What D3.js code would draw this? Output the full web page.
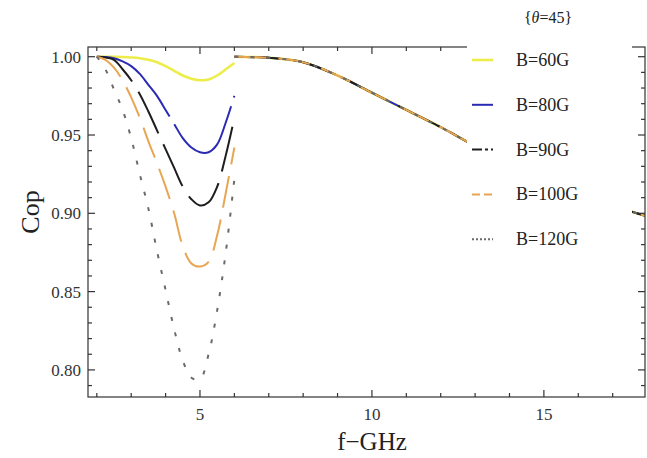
<!DOCTYPE html>
<html>
<head>
<meta charset="utf-8">
<script src="https://cdn.jsdelivr.net/npm/d3@7"></script>
<style>
  body { margin: 0; background: #fff; }
  svg { display: block; }
  text { font-family: "Liberation Serif", "Times New Roman", "DejaVu Serif", serif; }
  .tick-label { font-size: 17px; fill: #333; }
  .axis-title { font-size: 26px; fill: #222; }
  .legend-text { font-size: 18px; fill: #222; }
</style>
</head>
<body>
<div id="chart"></div>
<script>
// dip region, f from 2 to 6 GHz
var freqLow = [2, 2.25, 2.5, 2.75, 3, 3.25, 3.5, 3.75, 4, 4.25, 4.5, 4.75, 5, 5.25, 5.5, 5.75, 6];
var cop60  = [1.000, 1.000, 1.000, 0.9998, 0.9995, 0.999, 0.998, 0.9965, 0.994, 0.991, 0.988, 0.986, 0.985, 0.9855, 0.988, 0.992, 0.996];
var cop80  = [1.000, 0.9998, 0.999, 0.997, 0.994, 0.989, 0.982, 0.975, 0.966, 0.957, 0.948, 0.942, 0.939, 0.939, 0.944, 0.958, 0.975];
var cop90  = [1.000, 0.9995, 0.998, 0.992, 0.985, 0.976, 0.965, 0.953, 0.941, 0.929, 0.917, 0.909, 0.905, 0.907, 0.917, 0.937, 0.961];
var cop100 = [1.000, 0.998, 0.993, 0.985, 0.974, 0.961, 0.946, 0.932, 0.917, 0.900, 0.879, 0.868, 0.866, 0.869, 0.886, 0.913, 0.942];
var cop120 = [1.000, 0.992, 0.979, 0.966, 0.948, 0.925, 0.903, 0.876, 0.851, 0.826, 0.806, 0.795, 0.794, 0.810, 0.838, 0.875, 0.922];

// above 6 GHz all five curves coincide
var freqHigh = [6, 7, 8, 9, 10, 11, 12, 13, 14, 15, 16, 17, 18];
var copHigh  = [1.000, 0.9993, 0.9965, 0.988, 0.977, 0.966, 0.955, 0.943, 0.932, 0.922, 0.913, 0.905, 0.898];

var seriesNames  = ["B=60G", "B=80G", "B=90G", "B=100G", "B=120G"];
var seriesLow    = [cop60, cop80, cop90, cop100, cop120];
var seriesColors = ["#eded4a", "#2a2ab4", "#1e1e1e", "#e8a552", "#6a6a6a"];
var seriesDash   = [null, "100,9", "46,12", "32,12", "4,12"];
var seriesWidth  = [2.6, 2, 2, 2, 2];

var xMajor = [5, 10, 15];
var yMajor = [0.80, 0.85, 0.90, 0.95, 1.00];

var width  = 647;
var height = 458;
var frame  = {left: 88, right: 645, top: 47, bottom: 397};

var svg = d3.select("#chart").append("svg")
    .attr("width", width)
    .attr("height", height);

var xScale = d3.scaleLinear().domain([1.744, 17.94]).range([frame.left, frame.right]);
var yScale = d3.scaleLinear().domain([0.7827, 1.0062]).range([frame.bottom, frame.top]);

svg.append("clipPath").attr("id", "clip")
  .append("rect")
    .attr("x", frame.left).attr("y", frame.top)
    .attr("width", frame.right - frame.left)
    .attr("height", frame.bottom - frame.top);

var line = d3.line()
    .x(function(d) { return xScale(d[0]); })
    .y(function(d) { return yScale(d[1]); })
    .curve(d3.curveCatmullRom);

var plot = svg.append("g").attr("clip-path", "url(#clip)");

seriesLow.forEach(function(vals, i) {
  var low  = freqLow.map(function(f, j) { return [f, vals[j]]; });
  var high = freqHigh.map(function(f, j) { return [f, copHigh[j]]; });
  [low, high].forEach(function(pts) {
    plot.append("path")
        .datum(pts)
        .attr("fill", "none")
        .attr("stroke", seriesColors[i])
        .attr("stroke-width", seriesWidth[i])
        .attr("stroke-dasharray", seriesDash[i])
        .attr("d", line);
  });
});

// frame with inward ticks on all four sides
var frameG = svg.append("g").attr("stroke", "#333").attr("stroke-width", 1.2);
frameG.append("rect")
    .attr("x", frame.left).attr("y", frame.top)
    .attr("width", frame.right - frame.left)
    .attr("height", frame.bottom - frame.top)
    .attr("fill", "none");

var xTicks = d3.range(2, 18, 1);
xTicks.forEach(function(t) {
  var len = xMajor.indexOf(t) >= 0 ? 7 : 4;
  var x = xScale(t);
  frameG.append("line").attr("x1", x).attr("x2", x).attr("y1", frame.bottom).attr("y2", frame.bottom - len);
  frameG.append("line").attr("x1", x).attr("x2", x).attr("y1", frame.top).attr("y2", frame.top + len);
});

var yTicks = d3.range(79, 101, 1).map(function(v) { return v / 100; });
yTicks.forEach(function(t) {
  var major = Math.round(t * 100) % 5 === 0;
  var len = major ? 7 : 4;
  var y = yScale(t);
  frameG.append("line").attr("x1", frame.left).attr("x2", frame.left + len).attr("y1", y).attr("y2", y);
  frameG.append("line").attr("x1", frame.right).attr("x2", frame.right - len).attr("y1", y).attr("y2", y);
});

svg.selectAll(".xlab")
    .data(xMajor)
  .enter().append("text")
    .attr("class", "tick-label")
    .attr("x", function(d) { return xScale(d); })
    .attr("y", 420)
    .attr("text-anchor", "middle")
    .text(function(d) { return d; });

svg.selectAll(".ylab")
    .data(yMajor)
  .enter().append("text")
    .attr("class", "tick-label")
    .attr("x", 81)
    .attr("y", function(d) { return yScale(d) + 6; })
    .attr("text-anchor", "end")
    .text(function(d) { return d3.format(".2f")(d); });

svg.append("text")
    .attr("class", "axis-title")
    .attr("transform", "translate(39,212) rotate(-90)")
    .attr("text-anchor", "middle")
    .text("Cop");

svg.append("text")
    .attr("class", "axis-title")
    .style("font-size", "25px")
    .attr("x", 372)
    .attr("y", 450)
    .attr("text-anchor", "middle")
    .text("f\u2212GHz");

// legend sits on a white box over the plot
var legend = svg.append("g");
legend.append("rect")
    .attr("x", 467).attr("y", 0)
    .attr("width", 165).attr("height", 262)
    .attr("fill", "#fff");

var title = legend.append("text")
    .attr("class", "legend-text")
    .style("font-size", "16px")
    .attr("x", 548).attr("y", 23)
    .attr("text-anchor", "middle");
title.append("tspan").text("{");
title.append("tspan").style("font-style", "italic").text("\u03b8");
title.append("tspan").text("=45}");

seriesNames.forEach(function(name, i) {
  var cy = 60 + i * 44.8;
  legend.append("line")
      .attr("x1", 472).attr("x2", 493)
      .attr("y1", cy).attr("y2", cy)
      .attr("stroke", seriesColors[i])
      .attr("stroke-width", seriesWidth[i])
      .attr("stroke-dasharray", i === 2 ? "10,3,3,3" : i === 3 ? "8,4" : i === 4 ? "2,2" : null);
  legend.append("text")
      .attr("class", "legend-text")
      .attr("x", 516).attr("y", cy + 6)
      .text(name);
});
</script>
</body>
</html>
